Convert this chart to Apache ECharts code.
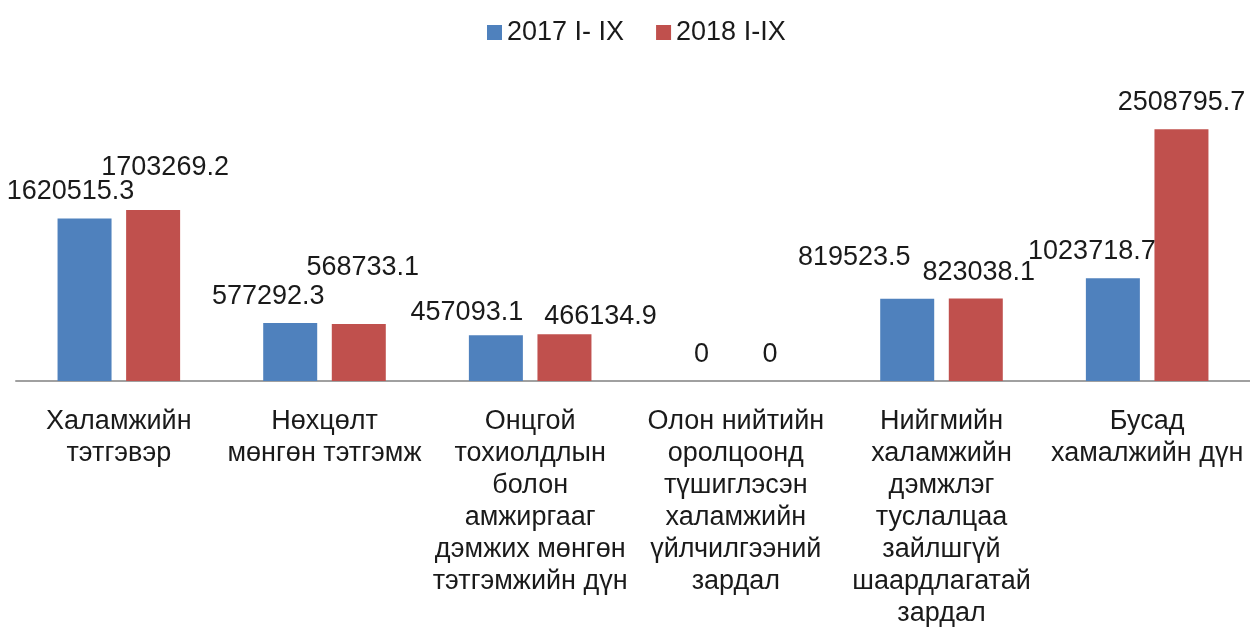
<!DOCTYPE html>
<html>
<head>
<meta charset="utf-8">
<script src="https://cdn.jsdelivr.net/npm/echarts@6/dist/echarts.min.js"></script>
<style>
    html, body { margin: 0; padding: 0; background: #fff; }
    #chart { width: 1250px; height: 630px; }
</style>
</head>
<body>
<div id="chart"></div>
<script>
    // data
    const categories = [
        'Халамжийн\nтэтгэвэр',
        'Нөхцөлт\nмөнгөн тэтгэмж',
        'Онцгой\nтохиолдлын\nболон\nамжиргааг\nдэмжих мөнгөн\nтэтгэмжийн дүн',
        'Олон нийтийн\nоролцоонд\nтүшиглэсэн\nхаламжийн\nүйлчилгээний\nзардал',
        'Нийгмийн\nхаламжийн\nдэмжлэг\nтуслалцаа\nзайлшгүй\nшаардлагатай\nзардал',
        'Бусад\nхамалжийн дүн'
    ];
    const seriesNames = ['2017 I- IX', '2018 I-IX'];
    const values2017 = [1620515.3, 577292.3, 457093.1, 0, 819523.5, 1023718.7];
    const values2018 = [1703269.2, 568733.1, 466134.9, 0, 823038.1, 2508795.7];

    // label nudges, like the hand-moved labels in the original
    const shift2017 = [[-14, -8], [-22, -8], [-29, -4], [0, -8], [-53, -23], [-21, -8]];
    const shift2018 = [[12, -24], [4, -38], [36, 1], [0, -8], [3, -7], [0, -8]];

    const font = "'Liberation Sans', Arial, sans-serif";

    function makeData(vals, shifts) {
        return vals.map((v, i) => ({
            value: v,
            label: { offset: shifts[i] }
        }));
    }

    let myChart = echarts.init(document.getElementById('chart'));
    myChart.setOption({
        animation: false,
        textStyle: { fontFamily: font },
        legend: {
            left: 482,
            top: 14,
            icon: 'rect',
            itemWidth: 15,
            itemHeight: 15,
            itemGap: 32,
            textStyle: { fontSize: 27, color: '#1a1a1a', fontFamily: font },
            data: seriesNames
        },
        grid: { left: 16, right: 0, top: 80, bottom: 245, containLabel: false },
        xAxis: {
            type: 'category',
            data: categories,
            axisLine: { lineStyle: { color: '#a0a0a0', width: 2 } },
            axisTick: { show: false },
            axisLabel: {
                interval: 0,
                margin: 25,
                fontSize: 27,
                lineHeight: 32,
                color: '#1a1a1a',
                fontFamily: font,
                align: 'center'
            }
        },
        yAxis: {
            type: 'value',
            min: 0,
            max: 3000000,
            show: false,
            splitLine: { show: false }
        },
        series: [
            {
                name: seriesNames[0],
                type: 'bar',
                barWidth: 54,
                barGap: '27%',
                itemStyle: { color: '#4f81bd' },
                label: { show: true, position: 'top', fontSize: 27, color: '#1a1a1a', fontFamily: font },
                data: makeData(values2017, shift2017)
            },
            {
                name: seriesNames[1],
                type: 'bar',
                barWidth: 54,
                barGap: '27%',
                itemStyle: { color: '#c0504d' },
                label: { show: true, position: 'top', fontSize: 27, color: '#1a1a1a', fontFamily: font },
                data: makeData(values2018, shift2018)
            }
        ]
    });
</script>
</body>
</html>
